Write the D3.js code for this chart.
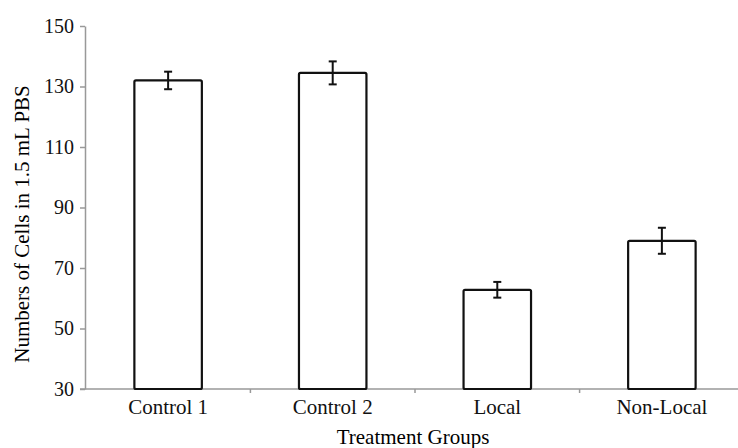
<!DOCTYPE html>
<html>
<head>
<meta charset="utf-8">
<script src="https://cdn.jsdelivr.net/npm/d3@7"></script>
<style>
body { margin: 0; background: #fff; }
</style>
</head>
<body>
<svg width="738" height="448"></svg>
<script>
var groups = ["Control 1", "Control 2", "Local", "Non-Local"];
var cells = [132, 134.5, 62.8, 79];
var errs = [2.9, 3.8, 2.6, 4.3];
var yTicks = [30, 50, 70, 90, 110, 130, 150];

var serif = '"Liberation Serif", "DejaVu Serif", "Times New Roman", serif';
var svg = d3.select('svg').attr('font-family', serif);

var ScaleX = d3.scaleBand().domain(groups).range([85, 745]).paddingInner(0.59).paddingOuter(0.3);
var ScaleY = d3.scaleLinear().domain([30, 150]).range([389, 26]);

// axes
var yAxis = svg.append('g')
    .attr('transform', 'translate(85,0)')
    .call(d3.axisLeft(ScaleY).tickValues(yTicks).tickSize(5).tickSizeOuter(0).tickPadding(6))
    .attr('font-family', serif);
yAxis.selectAll('text').style('font-size', '20px').style('font-family', serif).attr('fill', '#111');
yAxis.selectAll('line, path').attr('stroke', '#999').attr('stroke-width', 1.5);

var xAxis = svg.append('g')
    .attr('transform', 'translate(0,389)')
    .call(d3.axisBottom(ScaleX).tickSize(0).tickPadding(10))
    .attr('font-family', serif);
xAxis.select('.domain').remove();
xAxis.selectAll('text').style('font-size', '21px').style('font-family', serif).attr('fill', '#111');

svg.append('line')
    .attr('x1', 80).attr('x2', 738)
    .attr('y1', ScaleY(30)).attr('y2', ScaleY(30))
    .attr('stroke', '#999').attr('stroke-width', 1.5);

// small ticks between groups
var step = ScaleX.step();
svg.selectAll('.gtick')
    .data(groups.slice(1))
    .enter()
    .append('line')
    .attr('x1', function(d){ return ScaleX(d) - ScaleX.paddingInner() * step / 2; })
    .attr('x2', function(d){ return ScaleX(d) - ScaleX.paddingInner() * step / 2; })
    .attr('y1', ScaleY(30)).attr('y2', ScaleY(30) + 4)
    .attr('stroke', '#999').attr('stroke-width', 1.5);

// bars
svg.selectAll('.bar')
    .data(groups)
    .enter()
    .append('rect')
    .attr('class', 'bar')
    .attr('x', function(d){ return ScaleX(d); })
    .attr('y', function(d, i){ return ScaleY(cells[i]); })
    .attr('width', ScaleX.bandwidth())
    .attr('height', function(d, i){ return ScaleY(30) - ScaleY(cells[i]); })
    .attr('rx', 1.5)
    .attr('fill', '#fff')
    .attr('stroke', '#111')
    .attr('stroke-width', 2.2);

// error bars
groups.forEach(function(g, i){
    var cx = ScaleX(g) + ScaleX.bandwidth() / 2;
    var top = ScaleY(cells[i] + errs[i]);
    var bot = ScaleY(cells[i] - errs[i]);
    var e = svg.append('g').attr('stroke', '#111').attr('stroke-width', 2);
    e.append('line').attr('x1', cx).attr('x2', cx).attr('y1', top).attr('y2', bot);
    e.append('line').attr('x1', cx - 4).attr('x2', cx + 4).attr('y1', top).attr('y2', top);
    e.append('line').attr('x1', cx - 4).attr('x2', cx + 4).attr('y1', bot).attr('y2', bot);
});

// titles
svg.append('text')
    .text('Treatment Groups')
    .attr('x', 413).attr('y', 444)
    .style('font-size', '21px')
    .style('font-family', serif)
    .style('text-anchor', 'middle');

svg.append('text')
    .text('Numbers of Cells in 1.5 mL PBS')
    .attr('transform', 'translate(29,224)rotate(-90)')
    .style('font-size', '21px')
    .style('font-family', serif)
    .style('text-anchor', 'middle');
</script>
</body>
</html>
